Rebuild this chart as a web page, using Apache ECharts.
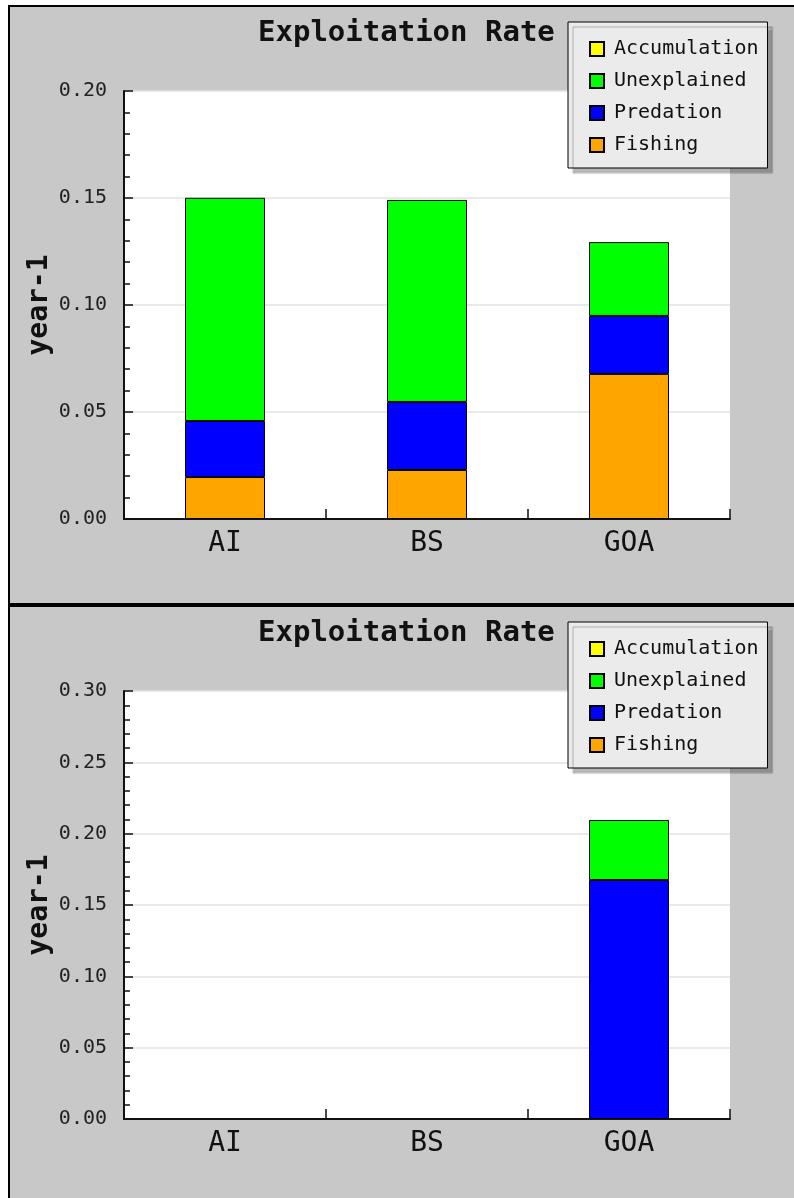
<!DOCTYPE html>
<html>
<head>
<meta charset="utf-8">
<script src="https://cdn.jsdelivr.net/npm/echarts@6/dist/echarts.min.js"></script>
<style>
html,body{margin:0;padding:0;background:#fff;}
#c{width:794px;height:1198px;}
</style>
</head>
<body>
<div id="c"></div>
<script>
// ---- data ----
var categories = ['AI', 'BS', 'GOA'];
var legendOrder = ['Accumulation', 'Unexplained', 'Predation', 'Fishing'];
var titleText = 'Exploitation Rate';
var yName = 'year-1';

// top panel
var fishingTop = [0.0196, 0.0229, 0.0678];
var predationTop = [0.0262, 0.0318, 0.0271];
var unexplainedTop = [0.1043, 0.0944, 0.0345];
var accumulationTop = [0, 0, 0];
var yMaxTop = 0.20;

// bottom panel
var fishingBot = [0, 0, 0];
var predationBot = [0, 0, 0.1675];
var unexplainedBot = [0, 0, 0.0421];
var accumulationBot = [0, 0, 0];
var yMaxBot = 0.30;
var yInterval = 0.05;

// ---- styling ----
var FONT = 'DejaVu Sans Mono';
var colors = {
  Fishing: '#ffa500',
  Predation: '#0000ff',
  Unexplained: '#00ff00',
  Accumulation: '#ffff00'
};

function nz(arr) { return arr.map(function (v) { return v === 0 ? '-' : v; }); }

function makeSeries(name, data, idx) {
  return {
    type: 'bar',
    name: name,
    stack: 'p' + idx,
    xAxisIndex: idx,
    yAxisIndex: idx,
    barWidth: 80,
    data: nz(data),
    itemStyle: { color: colors[name], borderColor: '#000', borderWidth: 1 },
    emphasis: { disabled: true },
    animation: false
  };
}

var OFF = 600;
function panel(idx, yMax) {
  var dy = idx * OFF;
  return {
    title: {
      text: titleText,
      left: 253,
      top: 14 + dy,
      textStyle: { fontFamily: FONT, fontSize: 29, fontWeight: 'bold', color: '#111' }
    },
    legend: {
      data: legendOrder,
      orient: 'vertical',
      left: 568,
      top: 22 + dy,
      padding: [17, 9, 13, 21],
      itemWidth: 14,
      itemHeight: 14,
      itemGap: 12,
      icon: 'rect',
      backgroundColor: '#ebebeb',
      borderColor: '#000',
      borderWidth: 1,
      shadowColor: 'rgba(0,0,0,0.28)',
      shadowBlur: 1,
      shadowOffsetX: 5,
      shadowOffsetY: 5,
      selectedMode: false,
      textStyle: { fontFamily: FONT, fontSize: 20, color: '#111', padding: [0, 0, 0, 5] }
    },
    grid: {
      left: 124,
      top: 91 + dy,
      width: 606,
      height: 428,
      show: true,
      backgroundColor: '#ffffff',
      borderWidth: 0
    },
    xAxis: {
      type: 'category',
      gridIndex: idx,
      data: categories,
      boundaryGap: true,
      axisLine: { lineStyle: { color: '#111', width: 2 } },
      axisTick: { show: true, inside: true, length: 10, alignWithLabel: false, lineStyle: { color: '#111', width: 1.5 } },
      axisLabel: { fontFamily: FONT, fontSize: 28, color: '#111', margin: 11 },
      splitLine: { show: false }
    },
    yAxis: {
      type: 'value',
      gridIndex: idx,
      min: 0,
      max: yMax,
      interval: yInterval,
      name: yName,
      nameLocation: 'middle',
      nameRotate: 90,
      nameGap: 70,
      nameMoveOverlap: false,
      nameTextStyle: { fontFamily: FONT, fontSize: 28, fontWeight: 'bold', color: '#111' },
      axisLine: { show: true, lineStyle: { color: '#111', width: 2 } },
      axisTick: { show: true, inside: true, length: 9, lineStyle: { color: '#111', width: 1.5 } },
      minorTick: { show: true, splitNumber: 5, length: 6, lineStyle: { color: '#111', width: 1.5 } },
      axisLabel: {
        fontFamily: FONT, fontSize: 20, color: '#222', margin: 17,
        formatter: function (v) { return v.toFixed(2); }
      },
      splitLine: { show: true, lineStyle: { color: '#e2e2e2', width: 1.5 } }
    }
  };
}

var p0 = panel(0, yMaxTop);
var p1 = panel(1, yMaxBot);

var option = {
  backgroundColor: '#ffffff',
  animation: false,
  graphic: [
    { type: 'rect', z: -10, silent: true, shape: { x: 8, y: 5, width: 786, height: 1193 }, style: { fill: '#c8c8c8' } },
    { type: 'rect', z: -9, silent: true, shape: { x: 8, y: 5, width: 786, height: 2 }, style: { fill: '#000' } },
    { type: 'rect', z: -9, silent: true, shape: { x: 8, y: 5, width: 2, height: 1193 }, style: { fill: '#000' } },
    { type: 'rect', z: -9, silent: true, shape: { x: 8, y: 603, width: 786, height: 4 }, style: { fill: '#000' } }
  ],
  title: [p0.title, p1.title],
  legend: [p0.legend, p1.legend],
  grid: [p0.grid, p1.grid],
  xAxis: [p0.xAxis, p1.xAxis],
  yAxis: [p0.yAxis, p1.yAxis],
  series: [
    makeSeries('Fishing', fishingTop, 0),
    makeSeries('Predation', predationTop, 0),
    makeSeries('Unexplained', unexplainedTop, 0),
    makeSeries('Accumulation', accumulationTop, 0),
    makeSeries('Fishing', fishingBot, 1),
    makeSeries('Predation', predationBot, 1),
    makeSeries('Unexplained', unexplainedBot, 1),
    makeSeries('Accumulation', accumulationBot, 1)
  ]
};

var chart = echarts.init(document.getElementById('c'), null, { renderer: 'canvas' });
chart.setOption(option);
</script>
</body>
</html>
